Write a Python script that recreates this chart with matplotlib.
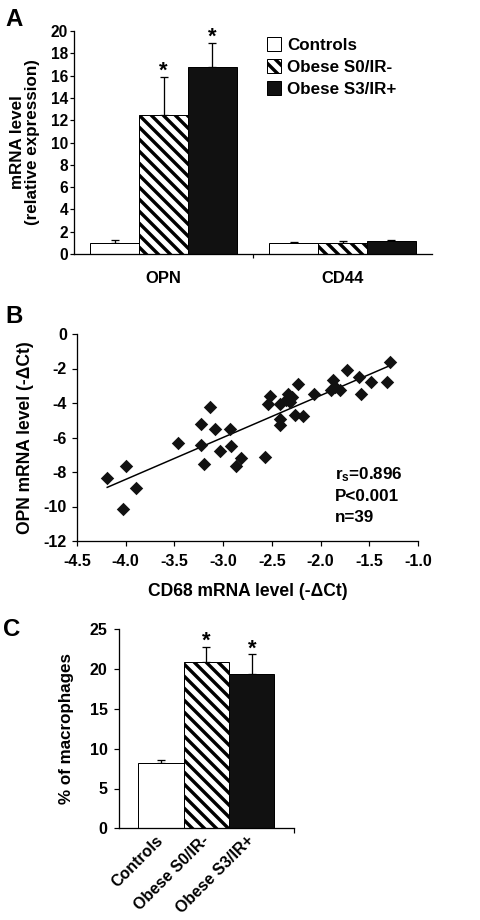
import numpy as np
import matplotlib
matplotlib.use('Agg')
import matplotlib.pyplot as plt
from matplotlib.patches import Patch

plt.rcParams['font.family'] = ['Liberation Sans', 'DejaVu Sans']
plt.rcParams['font.weight'] = 'bold'
plt.rcParams['axes.labelweight'] = 'bold'
plt.rcParams['axes.unicode_minus'] = False
plt.rcParams['hatch.linewidth'] = 3.4
plt.rcParams['mathtext.fontset'] = 'custom'
plt.rcParams['mathtext.rm'] = 'Liberation Sans:bold'
plt.rcParams['mathtext.it'] = 'Liberation Sans:bold'
plt.rcParams['mathtext.bf'] = 'Liberation Sans:bold'

# ---------------- data ----------------
# Panel A
genes = ['OPN', 'CD44']
group_names = ['Controls', 'Obese S0/IR-', 'Obese S3/IR+']
a_controls = [1.0, 1.0]
a_controls_err = [0.28, 0.12]
a_s0 = [12.45, 1.0]
a_s0_err = [3.45, 0.13]
a_s3 = [16.75, 1.15]
a_s3_err = [2.2, 0.15]
a_sig_s0 = [True, False]
a_sig_s3 = [True, False]

# Panel B
cd68 = [-4.19, -4.00, -4.03, -3.89, -3.46, -3.23, -3.13, -3.23, -3.20, -3.08,
        -3.03, -2.93, -2.92, -2.82, -2.87, -2.57, -2.52, -2.54, -2.42, -2.42,
        -2.42, -2.33, -2.29, -2.31, -2.23, -2.26, -2.18, -2.07, -1.85, -1.89,
        -1.87, -1.80, -1.73, -1.61, -1.59, -1.48, -1.32, -1.29, -2.35]
opn = [-8.33, -7.64, -10.15, -8.91, -6.34, -5.19, -4.21, -6.43, -7.54, -5.48,
       -6.78, -5.48, -6.49, -7.17, -7.66, -7.13, -3.58, -4.08, -4.06, -4.92,
       -5.25, -3.45, -3.64, -3.93, -2.87, -4.70, -4.78, -3.47, -3.06, -3.25,
       -2.67, -3.25, -2.09, -2.50, -3.47, -2.77, -2.77, -1.62, -3.80]
b_stats = ['r$_\\mathrm{s}$=0.896', 'P<0.001', 'n=39']

# Panel C
c_groups = ['Controls', 'Obese S0/IR-', 'Obese S3/IR+']
c_vals = [8.2, 20.9, 19.4]
c_err = [0.4, 1.85, 2.45]
c_sig = [False, True, True]

# ---------------- styles ----------------
fills = ['white', 'white', '#111111']
hatches = [None, '\\\\', None]
W, H = 480, 920
fig = plt.figure(figsize=(W / 72, H / 72), dpi=72)


def px_axes(l, t, r, b):
    return fig.add_axes([l / W, 1 - b / H, (r - l) / W, (b - t) / H])


def style_axes(ax):
    for s in ['top', 'right']:
        ax.spines[s].set_visible(False)
    for s in ['left', 'bottom']:
        ax.spines[s].set_linewidth(1.3)


def bold_ticks(ax):
    for lab in ax.get_xticklabels() + ax.get_yticklabels():
        lab.set_fontweight('bold')


# ---------------- Panel A ----------------
axA = px_axes(74, 31, 432, 254)
style_axes(axA)
x = np.arange(len(genes)) + 0.5
bw = 0.2726
series = [(a_controls, a_controls_err, [False, False]),
          (a_s0, a_s0_err, a_sig_s0),
          (a_s3, a_s3_err, a_sig_s3)]
handles = []
for k, (vals, errs, sig) in enumerate(series):
    xs = x + (k - 1) * bw
    axA.bar(xs, vals, width=bw, color=fills[k], edgecolor='black',
            linewidth=1.0, hatch=hatches[k], zorder=2)
    axA.errorbar(xs, vals, yerr=[np.zeros(len(vals)), errs], fmt='none',
                 ecolor='black', elinewidth=1.3, capsize=4, capthick=1.3, zorder=1)
    for xi, v, e, s in zip(xs, vals, errs, sig):
        if s:
            axA.annotate('*', xy=(xi, v + e), xytext=(0, 0), textcoords='offset points',
                         ha='center', va='baseline', fontsize=22)
    handles.append(Patch(facecolor=fills[k], edgecolor='black', linewidth=1.0,
                         hatch=hatches[k]))
axA.set_xlim(0, 2)
axA.set_ylim(0, 20)
axA.set_yticks(np.arange(0, 21, 2))
axA.set_xticks(x)
axA.set_xticklabels(genes, fontsize=16.5)
axA.set_xticks([1], minor=True)
axA.tick_params(axis='x', which='major', length=0, pad=17)
axA.tick_params(axis='x', which='minor', length=4, width=1.2, direction='out')
axA.tick_params(axis='y', labelsize=15.5, length=4, width=1.2, pad=2)
axA.set_ylabel('mRNA level\n(relative expression)', fontsize=17, labelpad=11,
               linespacing=1.0)
bold_ticks(axA)
axA.legend(handles, group_names, loc='upper left',
           bbox_to_anchor=(267 / W, 1 - 37 / H), bbox_transform=fig.transFigure,
           frameon=False, fontsize=17, handlelength=0.85, handleheight=0.85,
           handletextpad=0.35, labelspacing=0.38, borderpad=0, borderaxespad=0)

# ---------------- Panel B ----------------
axB = px_axes(77, 334, 418, 541)
style_axes(axB)
axB.scatter(cd68, opn, marker='D', s=9.5 ** 2, color='#111111', linewidths=0, zorder=3)
coef = np.polyfit(cd68, opn, 1)
xl = np.array([min(cd68), max(cd68)])
axB.plot(xl, np.polyval(coef, xl), color='black', linewidth=1.5, zorder=2)
axB.set_xlim(-4.5, -1.0)
axB.set_ylim(-12, 0)
axB.set_xticks(np.arange(-4.5, -0.99, 0.5))
axB.set_xticklabels(['%.1f' % v for v in np.arange(-4.5, -0.99, 0.5)])
axB.set_yticks(np.arange(-12, 1, 2))
axB.tick_params(axis='both', labelsize=16, length=5, width=1.2)
axB.tick_params(axis='x', pad=8)
axB.tick_params(axis='y', pad=5)
axB.set_xlabel('CD68 mRNA level (-\u0394Ct)', fontsize=17.5, labelpad=14)
axB.set_ylabel('OPN mRNA level (-\u0394Ct)', fontsize=17.5, labelpad=10)
bold_ticks(axB)
for txt, yy in zip(b_stats, [0.319, 0.214, 0.113]):
    axB.text(0.757, yy, txt, transform=axB.transAxes, fontsize=17,
             ha='left', va='center', fontweight='bold')

# ---------------- Panel C ----------------
axC = px_axes(118.7, 629.3, 294, 828.3)
style_axes(axC)
xc = np.arange(len(c_groups))
bars = axC.bar(xc, c_vals, width=1.0, color=fills, edgecolor='black', linewidth=1.0,
               zorder=2)
for patch, h in zip(bars, hatches):
    if h:
        patch.set_hatch(h)
axC.errorbar(xc, c_vals, yerr=[np.zeros(len(c_vals)), c_err], fmt='none',
             ecolor='black', elinewidth=1.3, capsize=4, capthick=1.3, zorder=1)
for xi, v, e, s in zip(xc, c_vals, c_err, c_sig):
    if s:
        axC.annotate('*', xy=(xi, v + e), xytext=(0, 0), textcoords='offset points',
                     ha='center', va='baseline', fontsize=22)
axC.set_xlim(-0.93, 2.93)
axC.set_ylim(0, 25)
axC.set_yticks(np.arange(0, 26, 5))
axC.set_xticks(xc)
axC.set_xticklabels(c_groups, rotation=45, ha='right', va='center',
                    rotation_mode='anchor', fontsize=16)
axC.set_xticks([2.93], minor=True)
axC.tick_params(axis='x', which='major', length=0, pad=10)
axC.tick_params(axis='x', which='minor', length=5, width=1.2)
axC.tick_params(axis='y', labelsize=16, length=5, width=1.2, pad=6)
axC.set_ylabel('% of macrophages', fontsize=17, fontweight='bold', labelpad=16)
bold_ticks(axC)

# ---------------- panel letters ----------------
for letter, (lx, ly) in zip('ABC', [(5, 26), (5, 323), (3, 636)]):
    fig.text(lx / W, 1 - ly / H, letter, fontsize=24, fontweight='bold',
             ha='left', va='baseline')

fig.savefig('out.png', dpi=72)
